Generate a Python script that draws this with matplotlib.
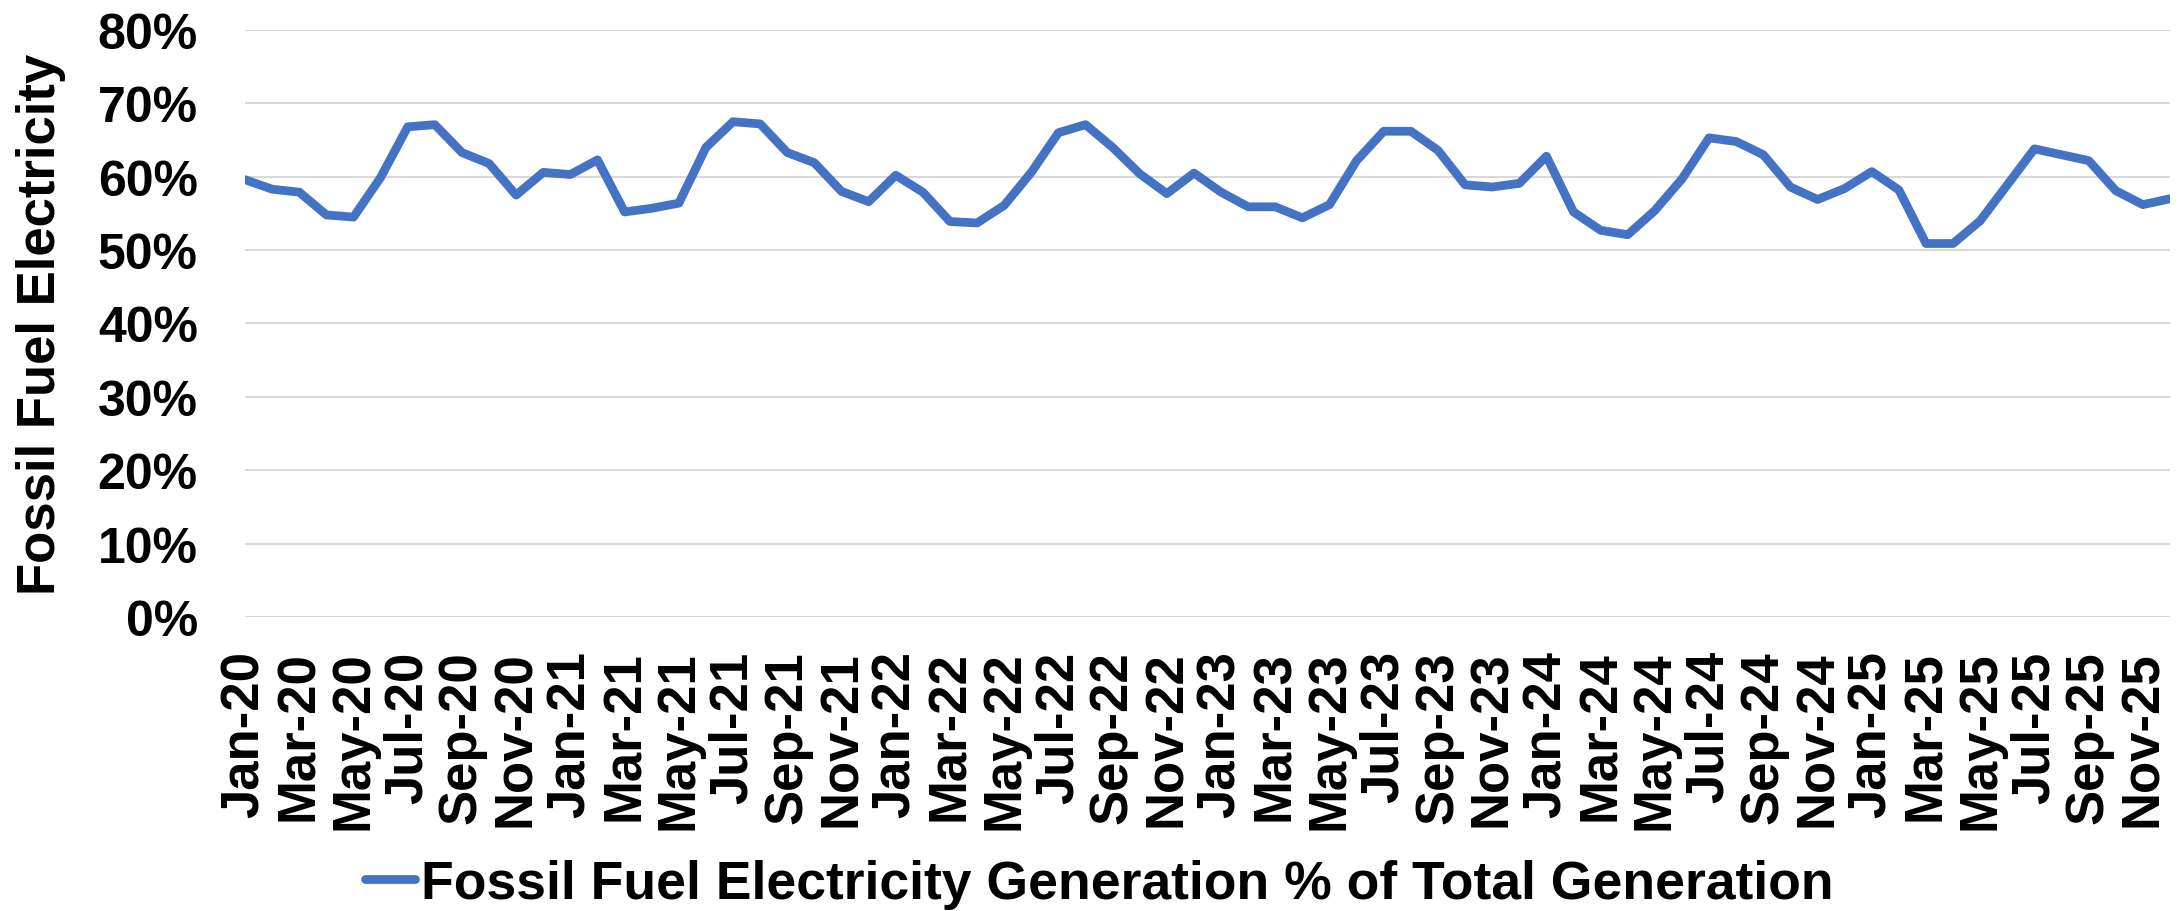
import matplotlib
matplotlib.use("Agg")
import matplotlib.pyplot as plt
import numpy as np
import pandas as pd
from matplotlib.ticker import PercentFormatter

# Monthly fossil fuel share of total generation, Jan 2020 - Dec 2025 (%)
months = pd.date_range("2020-01-01", "2025-12-01", freq="MS")
fossil_share = [
    59.6, 58.3, 57.9, 54.8, 54.5, 59.9, 66.8, 67.1, 63.3, 61.8, 57.5, 60.6,
    60.3, 62.3, 55.2, 55.7, 56.4, 64.0, 67.5, 67.2, 63.3, 61.9, 58.0, 56.6,
    60.2, 57.9, 53.9, 53.7, 56.1, 60.6, 66.0, 67.1, 64.0, 60.4, 57.7, 60.5,
    57.9, 55.9, 55.9, 54.4, 56.2, 62.2, 66.2, 66.2, 63.6, 58.9, 58.6, 59.1,
    62.8, 55.2, 52.7, 52.1, 55.4, 59.7, 65.3, 64.8, 63.0, 58.6, 56.9, 58.4,
    60.7, 58.2, 50.9, 50.9, 54.0, 58.9, 63.8, 63.0, 62.2, 58.1, 56.2, 57.0,
]
month_labels = [m.strftime("%b-%y") for m in months]
y_ticks = [0, 10, 20, 30, 40, 50, 60, 70, 80]

plt.rcParams["font.family"] = ["Liberation Sans", "DejaVu Sans"]
plt.rcParams["font.weight"] = "bold"

fig = plt.figure(figsize=(21.82, 9.12), dpi=100)
ax = fig.add_axes([0.1123, 0.3224, 0.8822, 0.6436])

x = np.arange(len(fossil_share))
line, = ax.plot(x, fossil_share, color="#4472C4", linewidth=6.3,
                solid_joinstyle="round", solid_capstyle="round",
                label="Fossil Fuel Electricity Generation % of Total Generation")

ax.set_xlim(0, len(fossil_share) - 1)
ax.set_ylim(0, 80)
ax.set_yticks(y_ticks)
ax.yaxis.set_major_formatter(PercentFormatter(decimals=0))
ax.set_xticks(x[::2])
ax.set_xticklabels(month_labels[::2], rotation=90, ha="center", va="top")

ax.grid(axis="y", color="#D9D9D9", linewidth=1.5)
ax.set_axisbelow(True)
for s in ax.spines.values():
    s.set_visible(False)
ax.tick_params(axis="x", length=0, pad=24, labelsize=38)
ax.tick_params(axis="y", length=0, pad=34, labelsize=36)

ax.set_ylabel("Fossil Fuel Electricity", fontsize=38, fontweight="bold")
ax.yaxis.set_label_coords(-0.093, 0.5)

fig.legend(handles=[line], loc="center", bbox_to_anchor=(1099 / 2182, 1 - 885 / 912),
           frameon=False, fontsize=38.5, handlelength=0.95, handletextpad=0.1,
           borderaxespad=0)

fig.savefig("out.png", dpi=100)
